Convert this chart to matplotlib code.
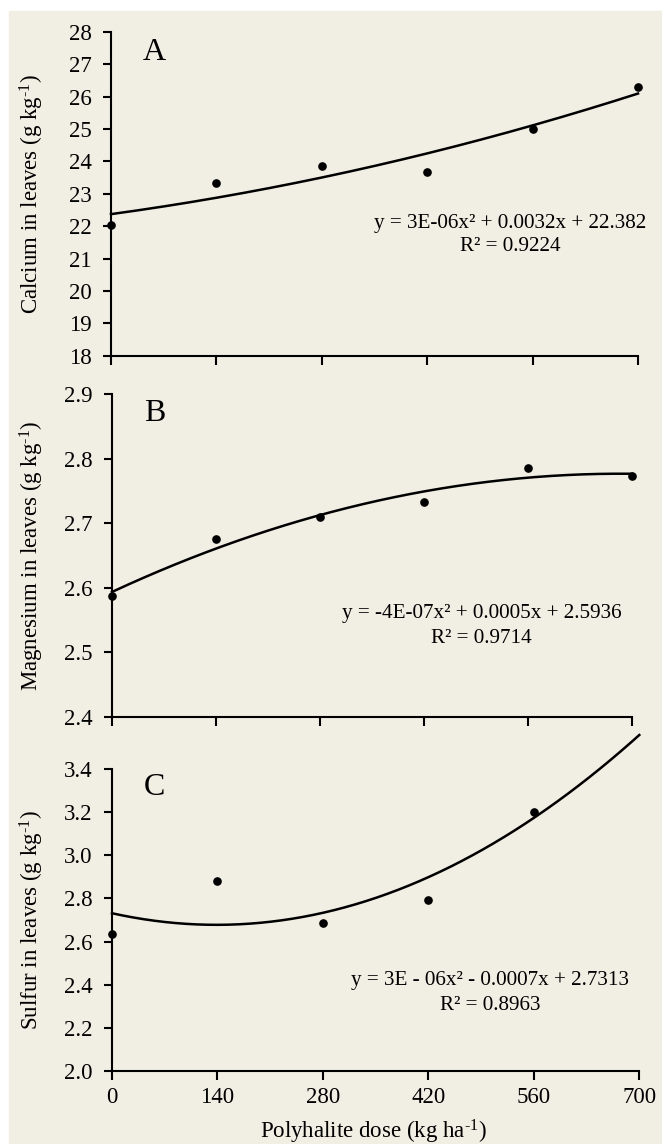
import numpy as np
import matplotlib
matplotlib.use('Agg')
import matplotlib.pyplot as plt
from matplotlib.patches import Rectangle
from matplotlib.ticker import FormatStrFormatter

# values
dose = np.array([0, 140, 280, 420, 560, 700])
calcium = np.array([22.05, 23.34, 23.85, 23.68, 24.99, 26.31])
magnesium = np.array([2.587, 2.675, 2.710, 2.732, 2.785, 2.773])
# last sulfur value sits above the axis top, only the trend line shows it
sulfur = np.array([2.634, 2.882, 2.684, 2.795, 3.200, 3.58])

xticks = [0, 140, 280, 420, 560, 700]
ca_ticks = np.arange(18, 29, 1)
mg_ticks = np.arange(2.4, 2.95, 0.1)
s_ticks = np.arange(2.0, 3.45, 0.2)

ca_eq = ['y = 3E-06x\u00b2 + 0.0032x + 22.382', 'R\u00b2 = 0.9224']
mg_eq = ['y = -4E-07x\u00b2 + 0.0005x + 2.5936', 'R\u00b2 = 0.9714']
s_eq = ['y = 3E - 06x\u00b2 - 0.0007x + 2.7313', 'R\u00b2 = 0.8963']

bg = '#f1eee4'
FS = 16.5
unit = r'$^{\text{-1}}$'

plt.rcParams['font.family'] = ['Liberation Serif', 'DejaVu Serif']
plt.rcParams['mathtext.fontset'] = 'custom'
plt.rcParams['mathtext.rm'] = 'Liberation Serif'
plt.rcParams['mathtext.it'] = 'Liberation Serif:italic'

W, H = 662, 1144
fig = plt.figure(figsize=(W / 100, H / 100), dpi=100)
fig.patch.set_facecolor('white')
fig.patches.append(Rectangle((9 / W, 0), 1 - 9 / W, 1 - 11 / H,
                             transform=fig.transFigure, color=bg, zorder=-10))


def px_axes(x0, x1, ytop, ybot):
    return fig.add_axes([x0 / W, (H - ybot) / H, (x1 - x0) / W, (ybot - ytop) / H])


def panel(ax, y, ylim, yticks, fmt, ylabel, letter, eq, eqx, eqy, labx):
    ax.set_facecolor('none')
    coef = np.polyfit(dose, y, 2)
    xs = np.linspace(0, 700, 200)
    ax.plot(xs, np.polyval(coef, xs), color='black', lw=1.8, clip_on=False, zorder=3)
    vis = y <= ylim[1]
    ax.plot(dose[vis], y[vis], 'o', color='black', ms=5.2, clip_on=False, zorder=4)
    ax.set_xlim(0, 700)
    ax.set_ylim(*ylim)
    ax.set_xticks(xticks)
    ax.set_yticks(yticks)
    ax.yaxis.set_major_formatter(FormatStrFormatter(fmt))
    for s in ['top', 'right']:
        ax.spines[s].set_visible(False)
    for s in ['left', 'bottom']:
        ax.spines[s].set_linewidth(1.5)
    ax.tick_params(axis='y', direction='out', length=6, width=1.5, pad=8, labelsize=FS)
    ax.tick_params(axis='x', direction='out', length=6.5, width=1.5, pad=5.5, labelsize=FS)
    ax.set_ylabel(ylabel + ' (g kg' + unit + ')', fontsize=FS)
    ax.yaxis.set_label_coords(labx, 0.5)
    ax.yaxis.label.set_va('center')
    ax.text(0.061, 0.915, letter, transform=ax.transAxes, fontsize=23,
            ha='left', va='baseline')
    ax.text(eqx, eqy[0], eq[0], transform=ax.transAxes, fontsize=15.2,
            ha='center', va='baseline')
    ax.text(eqx, eqy[1], eq[1], transform=ax.transAxes, fontsize=15.2,
            ha='center', va='baseline')


axA = px_axes(111, 638, 32, 355.7)
axB = px_axes(112, 632, 394, 716.7)
axC = px_axes(112, 639.3, 769.3, 1070.7)

panel(axA, calcium, (18, 28), ca_ticks, '%d', 'Calcium in leaves',
      'A', ca_eq, 0.757, (0.395, 0.323), -0.150)
panel(axB, magnesium, (2.4, 2.9), mg_ticks, '%.1f', 'Magnesium in leaves',
      'B', mg_eq, 0.711, (0.305, 0.2275), -0.154)
panel(axC, sulfur, (2.0, 3.4), s_ticks, '%.1f', 'Sulfur in leaves',
      'C', s_eq, 0.717, (0.284, 0.201), -0.152)

axA.set_xticklabels([])
axB.set_xticklabels([])
axC.set_xlabel('Polyhalite dose (kg ha' + unit + ')', fontsize=FS)
axC.xaxis.set_label_coords(0.495, -0.2024)
axC.xaxis.label.set_va('center')

fig.savefig('out.png', dpi=100, facecolor=fig.get_facecolor())
